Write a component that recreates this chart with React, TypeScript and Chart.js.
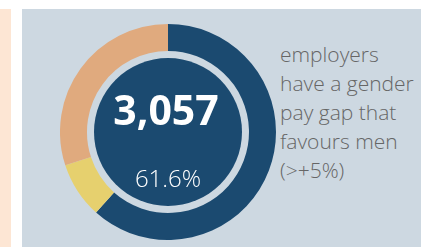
import React, { useEffect, useRef } from "react";
import { Chart, registerables } from "chart.js";

Chart.register(...registerables);

const categories = ["Favours men (>+5%)", "Within ±5%", "Favours women (<-5%)"];
const shares = [61.6, 8.4, 30.0];
const colors = ["#1b4a70", "#e6d06e", "#e0aa7e"];
const headline = "3,057";
const headlinePct = "61.6%";
const captionLines = ["employers", "have a gender", "pay gap that", "favours men", "(>+5%)"];

const innerDisc = {
  id: "innerDisc",
  beforeDatasetsDraw(chart: any) {
    const meta = chart.getDatasetMeta(0);
    const arc = meta.data[0];
    if (!arc) return;
    const { x, y, innerRadius } = arc.getProps(["x", "y", "innerRadius"], true);
    const ctx = chart.ctx;
    ctx.save();
    ctx.beginPath();
    ctx.arc(x, y, innerRadius - 7, 0, Math.PI * 2);
    ctx.fillStyle = "#1b4a70";
    ctx.fill();
    ctx.restore();
  },
};

export default function App() {
  const ref = useRef<HTMLCanvasElement>(null);
  useEffect(() => {
    document.body.style.margin = "0";
    const chart = new Chart(ref.current!, {
      type: "doughnut",
      data: {
        labels: categories,
        datasets: [
          {
            data: shares,
            backgroundColor: colors,
            borderWidth: 0,
          },
        ],
      },
      options: {
        animation: false,
        responsive: false,
        maintainAspectRatio: false,
        cutout: "75%",
        layout: { padding: 0 },
        plugins: { legend: { display: false }, tooltip: { enabled: false } },
      },
      plugins: [innerDisc],
    });
    return () => chart.destroy();
  }, []);

  return (
    <div style={{ position: "absolute", left: 0, top: 0, width: 421, height: 247, background: "#fff", overflow: "hidden" }}>
      <div style={{ position: "absolute", left: 0, top: 9, width: 11, height: 238, background: "#fde6d4" }} />
      <div style={{ position: "absolute", left: 22, top: 9, width: 399, height: 238, background: "#cdd8e1" }} />
      <canvas ref={ref} width={216} height={216} style={{ position: "absolute", left: 60, top: 24, width: 216, height: 216 }} />
      <div
        style={{
          position: "absolute",
          left: 66,
          width: 200,
          top: 83,
          textAlign: "center",
          color: "#fff",
          fontFamily: "'Open Sans', sans-serif",
          fontWeight: 700,
          fontSize: 41,
          lineHeight: "52px",
        }}
      >
        {headline}
      </div>
      <div
        style={{
          position: "absolute",
          left: 68,
          width: 200,
          top: 163,
          textAlign: "center",
          color: "#fff",
          fontFamily: "'Open Sans', sans-serif",
          fontWeight: 300,
          fontSize: 24,
          lineHeight: "30px",
        }}
      >
        {headlinePct}
      </div>
      <div
        style={{
          position: "absolute",
          left: 280,
          top: 39.5,
          color: "#666",
          fontFamily: "'Open Sans', sans-serif",
          fontWeight: 300,
          fontSize: 21,
          lineHeight: "29px",
          whiteSpace: "nowrap",
        }}
      >
        {captionLines.map((l, i) => (
          <div key={i}>{l}</div>
        ))}
      </div>
    </div>
  );
}
